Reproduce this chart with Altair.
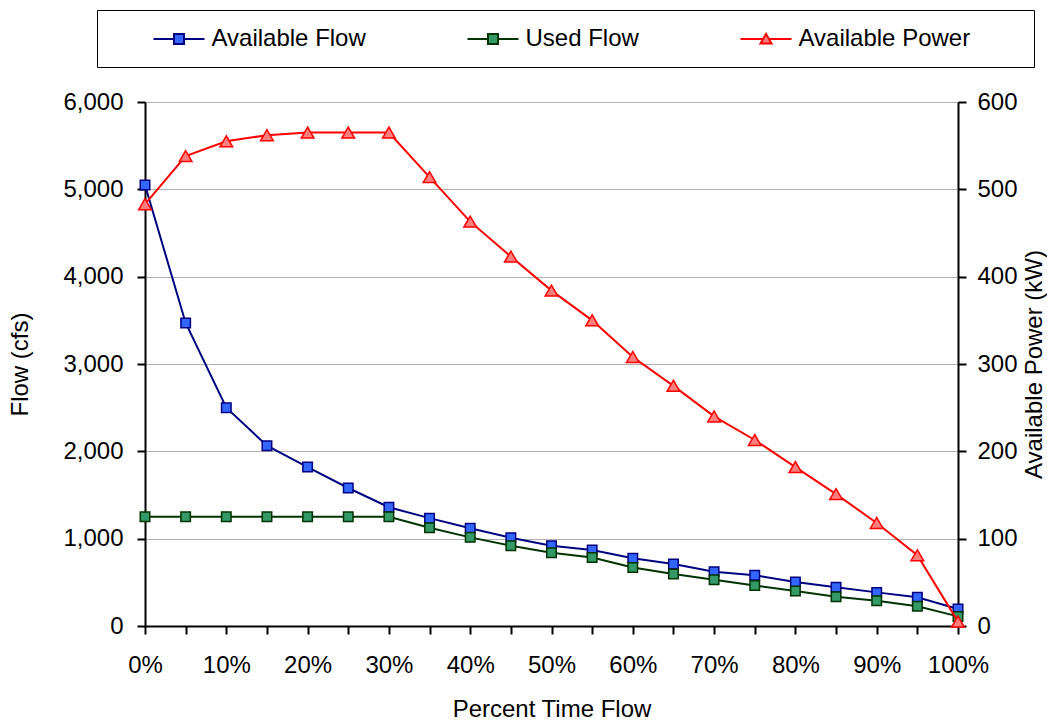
import altair as alt
import pandas as pd

# ---------------- data ----------------
pct = [0.00, 0.05, 0.10, 0.15, 0.20, 0.25, 0.30, 0.35, 0.40, 0.45, 0.50,
       0.55, 0.60, 0.65, 0.70, 0.75, 0.80, 0.85, 0.90, 0.95, 1.00]
available_flow = [5050, 3470, 2500, 2065, 1820, 1580, 1360, 1235, 1120, 1010, 920,
                  870, 775, 710, 620, 580, 505, 445, 385, 330, 195]
used_flow = [1250, 1250, 1250, 1250, 1250, 1250, 1250, 1125, 1015, 920, 840,
             785, 670, 595, 530, 465, 400, 335, 290, 225, 110]
available_power = [483, 538, 555, 562, 565, 565, 565, 514, 463, 423, 384,
                   350, 308, 275, 240, 213, 182, 151, 118, 81, 5]

series_names = ["Available Flow", "Used Flow", "Available Power"]
line_colors = ["#000080", "#003300", "#FF0000"]
marker_fills = ["#3366FF", "#339966", "#FF7F7F"]
# legend symbols: line segment with the marker in the middle (unit = 12 px);
# the last one carries an invisible zero-length segment that widens the framed box
legend_shapes = [
    "M-2.125,0H-0.42M0.42,0H2.125M-0.42,-0.42H0.42V0.42H-0.42Z",
    "M-2.125,0H-0.42M0.42,0H2.125M-0.42,-0.42H0.42V0.42H-0.42Z",
    "M-2.125,0H-0.24M0.24,0H2.125M0,-0.42L0.46,0.38H-0.46ZM20.6,0h0",
]
x_ticks = [0.00, 0.05, 0.10, 0.15, 0.20, 0.25, 0.30, 0.35, 0.40, 0.45, 0.50,
           0.55, 0.60, 0.65, 0.70, 0.75, 0.80, 0.85, 0.90, 0.95, 1.00]
flow_ticks = [0, 1000, 2000, 3000, 4000, 5000, 6000]
power_ticks = [0, 100, 200, 300, 400, 500, 600]

flow_df = pd.DataFrame({
    "pct": pct + pct,
    "series": [series_names[0]] * len(pct) + [series_names[1]] * len(pct),
    "value": available_flow + used_flow,
})
power_df = pd.DataFrame({
    "pct": pct,
    "series": [series_names[2]] * len(pct),
    "value": available_power,
})

FONT = "Liberation Sans"
W, H = 813, 524

stroke_scale = alt.Scale(domain=series_names, range=line_colors)
fill_scale = alt.Scale(domain=series_names, range=marker_fills)
shape_scale = alt.Scale(domain=series_names, range=legend_shapes)

legend_def = alt.Legend(
    orient="none", legendX=-48, legendY=-92, direction="horizontal", columns=3,
)

x_enc = alt.X(
    "pct:Q",
    scale=alt.Scale(domain=[0, 1], nice=False, zero=False),
    axis=alt.Axis(
        values=x_ticks,
        labelExpr="round(datum.value*100) % 10 == 0 ? round(datum.value*100) + '%' : ''",
        grid=False, tickSize=8, labelPadding=19, labelFlush=False, labelOverlap=False,
        title="Percent Time Flow", titleX=W / 2, titleY=83, titleBaseline="middle",
        titleAlign="center",
    ),
)
y_flow = alt.Y(
    "value:Q",
    scale=alt.Scale(domain=[0, 6000], nice=False),
    axis=alt.Axis(
        values=flow_ticks, format=",.0f", grid=True, gridColor="#606060",
        gridDash=[1, 1], gridWidth=1, tickSize=8, labelPadding=14,
        labelFlush=False, labelOverlap=False,
        title="Flow (cfs)", titleAngle=270, titleX=-125, titleY=H / 2,
        titleBaseline="middle", titleAlign="center",
    ),
)
y_power = alt.Y(
    "value:Q",
    scale=alt.Scale(domain=[0, 600], nice=False),
    axis=alt.Axis(
        orient="right", values=power_ticks, format="d", grid=False, tickSize=8,
        labelPadding=11, labelFlush=False, labelOverlap=False,
        title="Available Power (kW)", titleAngle=270, titleX=76, titleY=H / 2,
        titleBaseline="middle", titleAlign="center",
    ),
)

stroke_enc = alt.Stroke("series:N", scale=stroke_scale, title=None)
fill_enc = alt.Fill("series:N", scale=fill_scale, title=None)

# legend-only layer (no marks drawn, explicit scale domains give the entries)
legend_layer = alt.Chart(flow_df).transform_filter("false").mark_point(
    filled=True, opacity=1
).encode(
    shape=alt.Shape("series:N", scale=shape_scale, title=None, legend=legend_def),
    fill=alt.Fill("series:N", scale=fill_scale, title=None, legend=legend_def),
    stroke=alt.Stroke("series:N", scale=stroke_scale, title=None, legend=legend_def),
)

flow_lines = alt.Chart(flow_df).mark_line(strokeWidth=2).encode(
    x=x_enc, y=y_flow, stroke=stroke_enc
)
flow_points = alt.Chart(flow_df).mark_point(
    shape="square", filled=True, size=90, strokeWidth=1.5, opacity=1
).encode(x=x_enc, y=y_flow, fill=fill_enc, stroke=stroke_enc)

power_line = alt.Chart(power_df).mark_line(strokeWidth=2).encode(
    x=x_enc, y=y_power, stroke=stroke_enc
)
power_points = alt.Chart(power_df).mark_point(
    shape="triangle-up", filled=True, size=160, strokeWidth=1.5, opacity=1
).encode(x=x_enc, y=y_power, fill=fill_enc, stroke=stroke_enc)

flow_layer = alt.layer(legend_layer, flow_lines, flow_points)
power_layer = alt.layer(power_line, power_points)

chart = alt.layer(flow_layer, power_layer).resolve_scale(
    y="independent"
).properties(
    width=W, height=H,
    autosize=alt.AutoSizeParams(type="none"),
    padding={"left": 145, "top": 102, "right": 89, "bottom": 96},
    background="white",
).configure(
    font=FONT,
).configure_view(
    stroke=None,
).configure_axis(
    labelFont=FONT, labelFontSize=24, labelColor="black",
    titleFont=FONT, titleFontSize=24, titleFontWeight="normal", titleColor="black",
    domainColor="black", domainWidth=2, tickColor="black", tickWidth=2,
).configure_legend(
    strokeColor="black", fillColor="white", padding=16, columnPadding=61,
    symbolSize=576, symbolStrokeWidth=2, symbolOpacity=1,
    symbolOffset=53, labelOffset=19.5,
    labelFont=FONT, labelFontSize=24, labelColor="black", labelLimit=600,
)

chart.save("out.html", embed_options={"renderer": "svg", "actions": False})
